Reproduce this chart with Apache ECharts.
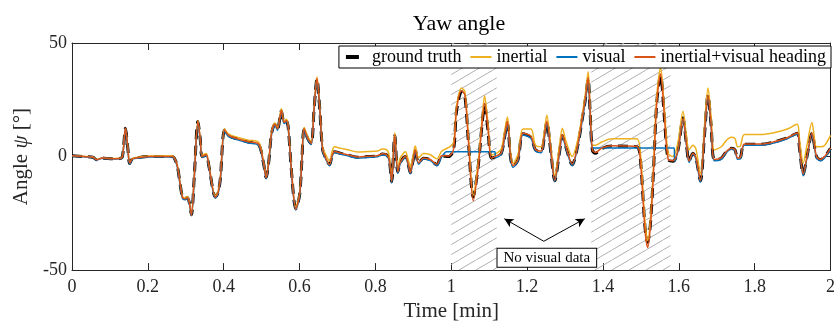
<!DOCTYPE html>
<html>
<head>
<meta charset="utf-8">
<script src="https://cdn.jsdelivr.net/npm/echarts@6/dist/echarts.min.js"></script>
<style>
  html, body { margin: 0; padding: 0; background: #fff; }
  #chart { width: 838px; height: 327px; }
</style>
</head>
<body>
<div id="chart"></div>
<script>
// time axis shared by ground truth, inertial and fused heading (minutes)
const timeMin = [
  0.000, 0.030, 0.055, 0.065, 0.080, 0.100, 0.125, 0.133, 0.141, 0.147, 0.152, 0.158, 0.165, 0.204,
  0.265, 0.272, 0.278, 0.291, 0.298, 0.304, 0.309, 0.315, 0.322, 0.332, 0.338, 0.343, 0.354, 0.361,
  0.378, 0.385, 0.391, 0.402, 0.412, 0.422, 0.465, 0.492, 0.505, 0.512, 0.519, 0.526, 0.535, 0.542,
  0.552, 0.559, 0.565, 0.570, 0.579, 0.590, 0.600, 0.606, 0.612, 0.622, 0.631, 0.638, 0.646, 0.653,
  0.661, 0.670, 0.679, 0.686, 0.692, 0.709, 0.727, 0.753, 0.780, 0.805, 0.818, 0.831, 0.837, 0.843,
  0.851, 0.859, 0.866, 0.879, 0.886, 0.892, 0.899, 0.905, 0.914, 0.927, 0.945, 0.962, 0.975, 0.993,
  1.006, 1.014, 1.027, 1.036, 1.045, 1.058, 1.071, 1.080, 1.088, 1.097, 1.106, 1.119, 1.132, 1.140,
  1.148, 1.156, 1.163, 1.176, 1.189, 1.210, 1.222, 1.237, 1.245, 1.252, 1.263, 1.273, 1.285, 1.293,
  1.302, 1.319, 1.333, 1.346, 1.354, 1.361, 1.366, 1.372, 1.380, 1.398, 1.424, 1.489, 1.498, 1.511,
  1.518, 1.525, 1.533, 1.542, 1.552, 1.562, 1.572, 1.585, 1.598, 1.611, 1.620, 1.627, 1.637, 1.645,
  1.657, 1.668, 1.677, 1.685, 1.694, 1.712, 1.725, 1.738, 1.748, 1.755, 1.762, 1.773, 1.816, 1.851,
  1.886, 1.912, 1.918, 1.928, 1.938, 1.951, 1.963, 1.973, 1.985, 2.000
];

const groundTruth = [
  0.3, 0.0, -0.3, -1.4, -0.6, -1.0, -0.9, 0.0, 12.5, 4.0, -3.1, -1.2, -0.7, 0.0,
  0.0, -1.5, -4.3, -17.8, -18.6, -18.0, -20.0, -25.6, -10.0, 15.4, 8.0, 0.0, 0.7, -4.3,
  -17.8, -16.0, -10.0, 11.7, 9.5, 8.5, 6.4, 5.4, -2.9, -9.3, -2.0, 10.0, 14.2, 12.1,
  20.2, 15.0, 15.7, 13.0, -7.1, -23.0, -17.1, -2.0, 12.1, 7.8, 5.7, 20.0, 34.2, 21.4,
  2.9, -1.0, -3.6, 0.5, 2.1, 1.4, 0.7, -0.3, 0.0, 0.3, 1.1, 0.6, -2.0, -11.1,
  9.3, -6.8, -2.5, 0.0, -3.0, -7.1, -2.0, 2.9, -2.9, -0.7, -1.4, -3.6, 0.3, 0.0,
  2.9, 20.0, 28.5, 26.4, 7.1, -17.8, -4.3, 12.0, 22.8, 11.4, -0.7, 0.0, 1.4, 8.0,
  15.0, 0.0, -4.3, -1.4, 10.0, 8.5, 2.9, 2.1, 8.0, 15.0, 1.4, -10.7, 1.4, 9.3,
  4.3, -3.6, 4.3, 17.1, 25.6, 34.2, 20.0, 2.9, 1.4, 3.6, 4.6, 4.3, 0.0, -31.3,
  -37.7, -30.0, -7.1, 24.2, 35.6, 17.1, -1.4, -2.1, 2.9, 17.1, 5.7, -2.1, 1.4, -0.5,
  -10.7, 10.0, 27.1, 14.2, -1.4, -0.7, 2.1, 3.6, 3.0, -0.7, -0.5, 5.4, 5.4, 6.4,
  8.2, 10.3, 4.0, -7.8, 0.0, 10.3, 0.0, -1.4, 0.0, 3.6
];

const inertial = [
  0.3, 0.1, -0.2, -1.3, -0.5, -0.9, -0.8, 0.2, 12.4, 4.5, -2.9, -1.0, -0.5, 0.2,
  0.3, -1.3, -4.0, -17.4, -18.2, -17.6, -19.6, -25.0, -9.6, 15.8, 8.5, 0.6, 1.3, -3.8,
  -17.2, -15.4, -9.5, 12.2, 10.0, 9.2, 7.2, 6.3, -2.2, -8.7, -1.4, 10.6, 14.8, 12.8,
  21.0, 15.8, 16.4, 13.6, -6.5, -22.2, -16.4, -1.4, 12.8, 8.6, 6.6, 20.8, 35.0, 22.5,
  4.2, 0.5, -2.0, 2.4, 4.3, 3.6, 3.0, 2.0, 2.2, 2.4, 3.3, 2.8, 0.0, -8.8,
  10.5, -5.0, -0.5, 2.1, -1.0, -4.6, 0.2, 4.6, -0.5, 1.3, 0.8, -1.0, 2.4, 4.0,
  6.0, 22.0, 30.2, 28.5, 9.5, -17.0, -2.5, 14.0, 26.8, 14.0, 0.7, 1.4, 3.3, 10.5,
  17.4, 2.5, -2.9, 1.0, 12.1, 12.1, 5.0, 4.3, 10.5, 18.2, 3.6, -8.5, 4.5, 12.5,
  7.0, 0.0, 7.0, 19.0, 28.0, 37.3, 22.0, 5.0, 5.0, 6.5, 7.8, 7.8, 3.0, -29.0,
  -37.0, -28.0, -5.0, 27.0, 39.2, 21.0, 1.4, 0.0, 6.5, 20.0, 9.5, 3.0, 5.0, 3.5,
  -7.8, 14.0, 30.2, 18.0, 2.9, 4.3, 7.0, 8.5, 8.0, 4.3, 4.5, 9.7, 9.7, 10.5,
  12.1, 14.2, 8.0, -2.9, 5.0, 15.0, 4.3, 4.3, 5.0, 9.3
];

const fused = [
  0.3, 0.0, -0.3, -1.4, -0.6, -1.0, -0.9, 0.0, 12.6, 4.2, -3.0, -1.2, -0.7, 0.0,
  0.0, -1.5, -4.3, -17.8, -18.6, -18.0, -20.2, -25.8, -10.0, 15.5, 8.0, 0.0, 0.8, -4.3,
  -17.9, -16.0, -10.0, 11.8, 9.5, 8.6, 6.5, 5.5, -2.8, -9.3, -2.0, 10.0, 14.3, 12.2,
  20.3, 15.1, 15.8, 13.0, -7.1, -23.2, -17.1, -2.0, 12.2, 7.9, 5.8, 20.0, 34.5, 21.6,
  3.0, -1.0, -3.5, 0.6, 2.2, 1.5, 0.8, -0.2, 0.1, 0.4, 1.2, 0.7, -2.0, -11.0,
  9.4, -6.7, -2.4, 0.1, -3.0, -7.0, -2.0, 3.0, -2.8, -0.6, -1.3, -3.4, 0.4, 0.2,
  3.2, 20.5, 29.0, 27.0, 7.5, -19.5, -5.0, 12.0, 23.5, 12.0, -0.7, 0.3, 1.6, 8.3,
  15.5, 0.4, -4.0, -1.2, 10.3, 9.0, 3.2, 2.4, 8.3, 15.5, 1.7, -10.5, 1.7, 9.7,
  4.7, -3.3, 4.6, 17.5, 26.0, 34.8, 20.5, 3.0, 1.8, 3.8, 4.8, 4.5, -0.5, -32.5,
  -40.0, -31.0, -8.0, 24.0, 36.5, 17.5, -1.2, -1.8, 3.0, 16.8, 5.8, -2.0, 1.5, -0.4,
  -10.5, 10.2, 27.0, 14.3, -1.3, -0.6, 2.2, 3.7, 3.1, -0.6, -0.4, 5.5, 5.5, 6.5,
  8.3, 10.4, 4.0, -7.6, 0.0, 10.5, 0.1, -1.3, 0.1, 3.7
];

// visual heading holds its last value while no visual data is available
const visualTime = [
  0.000, 0.030, 0.055, 0.065, 0.080, 0.100, 0.125, 0.133, 0.141, 0.147, 0.152, 0.158, 0.165, 0.204,
  0.265, 0.272, 0.278, 0.291, 0.298, 0.304, 0.309, 0.315, 0.322, 0.332, 0.338, 0.343, 0.354, 0.361,
  0.378, 0.385, 0.391, 0.402, 0.412, 0.422, 0.465, 0.492, 0.505, 0.512, 0.519, 0.526, 0.535, 0.542,
  0.552, 0.559, 0.565, 0.570, 0.579, 0.590, 0.600, 0.606, 0.612, 0.622, 0.631, 0.638, 0.646, 0.653,
  0.661, 0.670, 0.679, 0.686, 0.692, 0.709, 0.727, 0.753, 0.780, 0.805, 0.818, 0.831, 0.837, 0.843,
  0.851, 0.859, 0.866, 0.879, 0.886, 0.892, 0.899, 0.905, 0.914, 0.927, 0.945, 0.962, 0.975, 0.988,
  1.115, 1.117, 1.132, 1.140, 1.148, 1.156, 1.163, 1.176, 1.189, 1.210, 1.222, 1.237, 1.245, 1.252,
  1.263, 1.273, 1.285, 1.293, 1.302, 1.319, 1.333, 1.346, 1.354, 1.361, 1.366, 1.374, 1.588, 1.589,
  1.598, 1.611, 1.620, 1.627, 1.637, 1.645, 1.657, 1.668, 1.677, 1.685, 1.694, 1.712, 1.725, 1.738,
  1.748, 1.755, 1.762, 1.773, 1.816, 1.851, 1.886, 1.912, 1.918, 1.928, 1.938, 1.951, 1.963, 1.973,
  1.985, 2.000
];

const visual = [
  0.2, -0.1, -0.4, -1.6, -0.7, -1.1, -1.0, -0.2, 12.0, 3.6, -3.4, -1.4, -0.9, -0.2,
  -0.2, -1.8, -4.8, -18.3, -19.0, -18.4, -20.6, -26.0, -10.8, 14.6, 7.4, -0.4, 0.3, -4.8,
  -18.3, -16.5, -10.6, 11.0, 9.0, 8.1, 6.0, 5.0, -3.4, -9.8, -2.6, 9.4, 13.7, 11.6,
  19.7, 14.5, 15.2, 12.5, -7.7, -23.5, -17.6, -2.6, 11.6, 7.3, 5.3, 19.4, 33.6, 21.0,
  2.4, -1.5, -4.0, 0.1, 1.7, 1.0, 0.3, -0.7, -0.4, -0.1, 0.7, 0.2, -2.5, -11.6,
  8.8, -7.3, -3.0, -0.4, -3.5, -7.6, -2.5, 2.4, -3.4, -1.1, -1.8, -4.0, -0.1, 2.1,
  2.1, -0.5, 1.0, 7.5, 14.5, -0.5, -4.8, -1.8, 9.5, 8.0, 2.5, 1.7, 7.5, 14.5,
  1.0, -11.0, 1.0, 8.8, 4.0, -4.0, 4.0, 16.5, 25.0, 33.5, 19.5, 3.8, 3.8, -2.1,
  2.5, 16.5, 5.2, -2.6, 1.0, -1.0, -11.3, 9.5, 26.5, 13.8, -1.9, -1.2, 1.7, 3.2,
  2.6, -1.2, -1.0, 5.0, 5.0, 6.0, 7.8, 9.9, 3.5, -8.5, -0.6, 9.8, -0.5, -1.9,
  -0.5, 3.2
];

// intervals without visual data (minutes)
const gapIntervals = [[1.0, 1.12], [1.369, 1.578]];

// "No visual data" note: label anchor and arrow start/end points [min, deg]
const noteAnchor = [1.252, -44.6];
const arrowTail = [1.244, -37.3];
const arrowHeads = [[1.140, -27.4], [1.352, -27.4]];

const seriesNames = ['ground truth', 'inertial', 'visual', 'inertial+visual heading'];
const xTicks = { min: 0, max: 2, interval: 0.2 };
const yTicks = { min: -50, max: 50, interval: 50 };

const FONT = 'Liberation Serif';
const AXIS_COLOR = '#262626';

function pairs(t, v) {
  return t.map((x, i) => [x, v[i]]);
}

function hatchPattern() {
  const c = document.createElement('canvas');
  c.width = 17;
  c.height = 10;
  const g = c.getContext('2d');
  g.strokeStyle = '#b0b0b0';
  g.lineWidth = 1;
  g.beginPath();
  g.moveTo(-17, 20);
  g.lineTo(34, -10);
  g.stroke();
  return c;
}

const chart = echarts.init(document.getElementById('chart'), null, { renderer: 'canvas' });

const xBase = {
  type: 'value',
  min: xTicks.min,
  max: xTicks.max,
  interval: xTicks.interval,
  axisLine: { show: true, onZero: false, lineStyle: { color: AXIS_COLOR, width: 1 } },
  axisTick: { show: true, inside: true, length: 7, lineStyle: { color: AXIS_COLOR } },
  splitLine: { show: false },
};
const yBase = {
  type: 'value',
  min: yTicks.min,
  max: yTicks.max,
  interval: yTicks.interval,
  axisLine: { show: true, onZero: false, lineStyle: { color: AXIS_COLOR, width: 1 } },
  axisTick: { show: true, inside: true, length: 7, lineStyle: { color: AXIS_COLOR } },
  splitLine: { show: false },
};

const option = {
  animation: false,
  textStyle: { fontFamily: FONT },
  title: {
    text: 'Yaw angle',
    left: 454,
    top: 8,
    textAlign: 'center',
    textStyle: { fontFamily: FONT, fontSize: 22, fontWeight: 'normal', color: '#000' },
  },
  legend: {
    data: [
      { name: seriesNames[0], lineStyle: { type: [13, 30], width: 4 } },
      seriesNames[1],
      seriesNames[2],
      seriesNames[3],
    ],
    right: 7,
    top: 46,
    itemWidth: 21,
    itemHeight: 10,
    itemGap: 8,
    padding: [2, 5],
    borderColor: '#000',
    borderWidth: 1,
    borderRadius: 0,
    backgroundColor: '#fff',
    selectedMode: false,
    itemStyle: { opacity: 0 },
    textStyle: { fontFamily: FONT, fontSize: 18, color: '#000' },
  },
  grid: { left: 72, right: 2, top: 43, bottom: 50 },
  xAxis: [
    {
      ...xBase,
      position: 'bottom',
      name: 'Time [min]',
      nameLocation: 'middle',
      nameGap: 28,
      nameTextStyle: { fontFamily: FONT, fontSize: 21, color: AXIS_COLOR },
      axisLabel: {
        fontFamily: FONT, fontSize: 18, color: AXIS_COLOR, margin: 8,
        formatter: (v) => String(Math.round(v * 10) / 10),
      },
    },
    { ...xBase, position: 'top', axisLabel: { show: false } },
  ],
  yAxis: [
    {
      ...yBase,
      position: 'left',
      name: 'Angle {i|ψ} [°]',
      nameLocation: 'middle',
      nameGap: 31,
      nameRotate: 90,
      nameTextStyle: {
        fontFamily: FONT, fontSize: 21, color: AXIS_COLOR,
        rich: { i: { fontFamily: FONT, fontSize: 21, fontStyle: 'italic', color: AXIS_COLOR } },
      },
      axisLabel: { fontFamily: FONT, fontSize: 18, color: AXIS_COLOR, margin: 5 },
    },
    { ...yBase, position: 'right', axisLabel: { show: false } },
  ],
  series: [
    {
      name: seriesNames[0],
      type: 'line',
      data: pairs(timeMin, groundTruth),
      symbol: 'none',
      smooth: 0.3,
      z: 2,
      lineStyle: { color: '#000', width: 3, type: [10, 6] },
      itemStyle: { color: '#000' },
      markArea: {
        silent: true,
        itemStyle: { color: { image: hatchPattern(), repeat: 'repeat' }, opacity: 1 },
        data: gapIntervals.map(([a, b]) => [{ xAxis: a }, { xAxis: b }]),
      },
      markLine: {
        silent: true,
        symbol: ['none', 'arrow'],
        symbolSize: [7, 9],
        label: { show: false },
        lineStyle: { color: '#000', width: 1, type: 'solid' },
        data: arrowHeads.map((h) => [{ coord: arrowTail }, { coord: h }]),
      },
      markPoint: {
        silent: true,
        symbol: 'rect',
        symbolSize: 0,
        data: [{ coord: noteAnchor }],
        label: {
          show: true,
          position: 'inside',
          formatter: 'No visual data',
          fontFamily: FONT,
          fontSize: 15,
          lineHeight: 16,
          color: '#000',
          backgroundColor: '#fff',
          borderColor: '#000',
          borderWidth: 1,
          padding: [1, 6],
        },
      },
    },
    {
      name: seriesNames[1],
      type: 'line',
      data: pairs(timeMin, inertial),
      symbol: 'none',
      smooth: 0.3,
      z: 3,
      lineStyle: { color: '#EDB120', width: 1.5 },
      itemStyle: { color: '#EDB120' },
    },
    {
      name: seriesNames[2],
      type: 'line',
      data: pairs(visualTime, visual),
      symbol: 'none',
      smooth: 0.3,
      z: 4,
      lineStyle: { color: '#0072BD', width: 1.5 },
      itemStyle: { color: '#0072BD' },
    },
    {
      name: seriesNames[3],
      type: 'line',
      data: pairs(timeMin, fused),
      symbol: 'none',
      smooth: 0.3,
      z: 5,
      lineStyle: { color: '#D95319', width: 1.5 },
      itemStyle: { color: '#D95319' },
    },
  ],
};

chart.setOption(option);
</script>
</body>
</html>
